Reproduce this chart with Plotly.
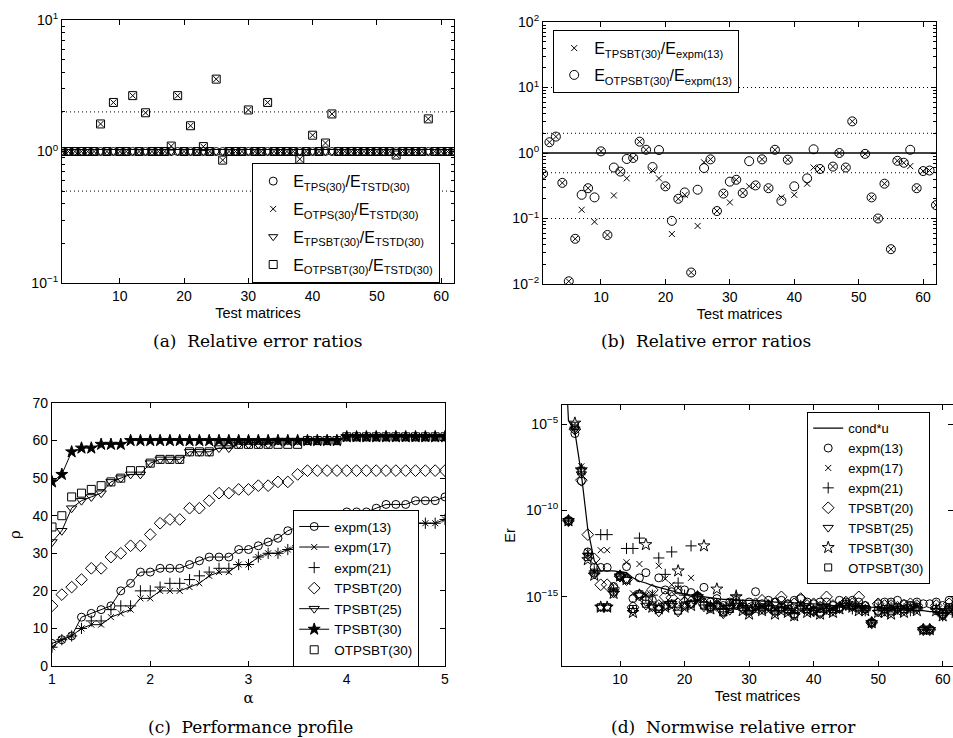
import plotly.graph_objects as go

FONT = "Liberation Sans, Arial, Helvetica, sans-serif"
SERIF = "DejaVu Serif, Liberation Serif, serif"

# ---------------- data ----------------
matrices = list(range(1, 63))

# (a) relative error ratios vs TSTD(30)
ratio_tps_a = [1.0, 1.0, 1.0, 1.0, 1.0, 1.0, 1.0, 1.0, 1.0, 1.0, 1.0, 1.0, 1.0, 1.0, 1.0, 1.0,
               1.0, 1.0, 1.0, 1.0, 1.0, 1.0, 1.0, 1.0, 1.0, 1.0, 1.0, 1.0, 1.0, 1.0, 1.0, 1.0,
               1.0, 1.0, 1.0, 1.0, 1.0, 1.0, 1.0, 1.0, 1.0, 1.0, 1.0, 1.0, 1.0, 1.0, 1.0, 1.0,
               1.0, 1.0, 1.0, 1.0, 1.0, 1.0, 1.0, 1.0, 1.0, 1.0, 1.0, 1.0, 1.0, 1.0]
ratio_tpsbt_a = list(ratio_tps_a)
ratio_otpsbt_a = [1.0, 1.0, 1.0, 1.0, 1.0, 1.0, 1.62, 1.0, 2.36, 1.0, 1.0, 2.66, 1.0, 1.97, 1.0, 1.0,
                  1.0, 1.1, 2.66, 1.0, 1.57, 1.0, 1.09, 1.0, 3.55, 0.86, 1.0, 1.0, 1.0, 2.07, 1.0, 1.0,
                  2.36, 1.0, 1.0, 1.0, 1.0, 0.875, 1.0, 1.33, 1.0, 1.16, 1.93, 1.0, 1.0, 1.0, 1.0, 1.0,
                  1.0, 1.0, 1.0, 1.0, 0.94, 1.0, 1.0, 1.0, 1.0, 1.77, 1.0, 1.0, 1.0, 1.0]
ratio_otps_a = list(ratio_otpsbt_a)
ref_lines_a = [2.0, 0.5]

# (b) ratios vs expm(13)
ratio_tpsbt_b = [0.48, 1.46, 1.78, 0.35, 0.011, 0.049, 0.136, 0.29, 0.089, 1.06, 0.056, 0.225, 0.52, 0.41,
                 0.84, 1.49, 1.12, 0.54, 0.41, 0.31, 0.058, 0.2, 0.23, 0.015, 0.077, 0.72, 0.8, 0.13,
                 0.24, 0.176, 0.39, 0.245, 0.31, 0.32, 0.8, 0.29, 1.12, 0.21, 0.79, 0.23, None, 0.34,
                 0.6, 0.57, None, 0.62, 1.0, 0.6, 3.04, None, 0.97, 0.21, 0.1, 0.34, 0.034, 0.76,
                 0.71, 0.63, 0.29, 0.53, 0.54, 0.16]
ratio_otpsbt_b = [0.48, 1.46, 1.78, 0.35, 0.011, 0.049, 0.23, 0.29, 0.21, 1.06, 0.056, 0.6, 0.52, 0.81,
                  0.84, 1.49, 1.12, 0.61, 1.11, 0.31, 0.092, 0.2, 0.25, 0.015, 0.275, 0.59, 0.8, 0.13,
                  0.24, 0.365, 0.39, 0.245, 0.75, 0.32, 0.8, 0.29, 1.12, 0.186, 0.79, 0.31, None, 0.41,
                  1.14, 0.57, None, 0.62, 1.0, 0.6, 3.04, None, 0.97, 0.21, 0.1, 0.34, 0.034, 0.76,
                  0.71, 1.12, 0.29, 0.53, 0.54, 0.16]
ref_dotted_b = [10.0, 2.0, 0.5, 0.1]
ref_solid_b = [1.0]

# (c) performance profile
alpha = [1.0, 1.1, 1.2, 1.3, 1.4, 1.5, 1.6, 1.7, 1.8, 1.9, 2.0, 2.1, 2.2, 2.3, 2.4, 2.5, 2.6, 2.7,
         2.8, 2.9, 3.0, 3.1, 3.2, 3.3, 3.4, 3.5, 3.6, 3.7, 3.8, 3.9, 4.0, 4.1, 4.2, 4.3, 4.4, 4.5,
         4.6, 4.7, 4.8, 4.9, 5.0]
p_expm13 = [6, 7, 8, 13, 14, 15, 16, 20, 22, 25, 25, 26, 26, 26, 27, 28, 29, 29, 29, 31, 31, 32, 33,
            34, 36, 37, 38, 39, 40, 40, 41, 41, 41, 42, 43, 43, 43, 44, 44, 44, 45]
p_expm17 = [5, 7, 8, 10, 11, 11, 13, 14, 15, 18, 18, 20, 20, 20, 21, 22, 24, 25, 25, 27, 27, 29, 30,
            30, 31, 32, 33, 34, 35, 35, 36, 36, 37, 37, 38, 38, 38, 38, 38, 38, 39]
p_expm21 = [5, 7, 8, 10, 12, 12, 15, 16, 16, 20, 20, 21, 22, 22, 23, 24, 25, 26, 26, 27, 27, 29, 30,
            30, 31, 32, 33, 34, 35, 35, 36, 36, 37, 37, 38, 38, 38, 38, 38, 38, 39]
p_tpsbt20 = [16, 19, 21, 23, 26, 26, 29, 30, 32, 32, 35, 38, 39, 39, 42, 42, 44, 46, 46, 47, 47, 48,
             48, 49, 49, 51, 52, 52, 52, 52, 52, 52, 52, 52, 52, 52, 52, 52, 52, 52, 52]
p_tpsbt25 = [33, 36, 42, 44, 45, 46, 49, 50, 51, 51, 54, 55, 55, 55, 57, 57, 57, 58, 58, 59, 59, 59,
             59, 60, 60, 60, 60, 60, 60, 60, 61, 61, 61, 61, 61, 61, 61, 61, 61, 61, 61]
p_tpsbt30 = [49, 51, 57, 58, 58, 59, 59, 59, 60, 60, 60, 60, 60, 60, 60, 60, 60, 60, 60, 60, 60, 60,
             60, 60, 60, 60, 60, 60, 60, 60, 61, 61, 61, 61, 61, 61, 61, 61, 61, 61, 61]
p_otpsbt30 = [37, 40, 45, 46, 47, 48, 49, 50, 52, 52, 54, 55, 55, 55, 57, 57, 57, 59, 59, 59, 59, 59,
              59, 59, 59, 59, 60, 60, 60, 60, 61, 61, 61, 61, 61, 61, 61, 61, 61, 61, 61]

# (d) normwise relative error, stored as log10 values
condu_log10 = [3.0, -4.8, -5.45, -7.9, -11.1, -12.9, -13.5, -13.5, -13.5, -13.55, -13.6, -13.9, -14.1,
               -14.2, -14.35, -14.45, -14.55, -14.65, -14.75, -14.85, -14.9, -14.95, -15.0, -15.05,
               -15.1, -15.15, -15.15, -15.2, -15.2, -15.2, -15.2, -15.25, -15.25, -15.3, -15.3, -15.3,
               -15.35, -15.35, -15.4, -15.4, -15.45, -15.45, -15.5, -15.5, -15.5, -15.55, -15.55, -15.6,
               -15.6, -15.6, -15.65, -15.65, -15.7, -15.7, -15.75, -15.8, -15.8, -15.85, -15.85, -15.9,
               -15.9, -15.9]
er_expm13 = [None, -10.6, -5.55, -8.3, -12.4, -13.3, -13.3, -13.3, -14.4, -13.8, -13.25, -15.1, -13.9,
             -13.6, -15.2, -13.9, -14.6, -14.7, -14.6, -14.6, -14.75, -14.95, -14.45, -15.3, -15.1,
             -15.5, -15.3, -15.2, -15.4, -15.3, -14.7, -15.4, -15.2, -15.3, -15.2, -15.4, -15.2, -15.1,
             -15.3, -15.4, -15.3, -15.3, -15.5, -15.2, -15.3, -15.2, -15.3, -15.5, -16.5, -15.4, -15.3,
             -15.3, -15.2, -15.4, -15.5, -15.3, -15.4, -15.4, -15.3, -15.5, -15.2, -15.4]
er_expm17 = [None, -10.6, -5.2, -7.45, -12.4, -13.6, -12.3, -12.3, -14.6, -13.7, -13.0, -14.8, -13.1,
             -14.9, -14.8, -13.2, -13.95, -14.3, -14.5, -15.0, -13.9, -15.0, -15.2, -15.6, -15.3, -15.6,
             -15.5, -15.3, -15.4, -15.7, -15.5, -15.6, -15.4, -15.7, -15.5, -15.6, -15.8, -15.4, -15.6,
             -15.7, -15.5, -15.6, -15.7, -15.5, -15.4, -15.6, -15.5, -15.7, -16.5, -15.5, -15.7, -15.5,
             -15.6, -15.6, -15.7, -15.5, -16.9, -16.9, -15.6, -16.0, -15.6, -15.8]
er_expm21 = [None, -10.6, -5.3, -7.6, -12.5, -13.5, -11.4, -11.4, -14.6, -13.8, -12.2, -12.2, -11.6,
             -15.0, -14.9, -12.75, -13.7, -12.4, -14.2, -14.9, -12.05, -15.0, -15.3, -15.5, -15.4,
             -15.7, -15.5, -14.9, -15.5, -15.8, -15.6, -15.7, -15.5, -15.8, -15.6, -15.7, -15.9, -15.5,
             -15.7, -15.8, -15.6, -15.7, -15.8, -15.6, -15.5, -15.7, -15.6, -15.8, -16.5, -15.6, -15.8,
             -15.6, -15.7, -15.7, -15.8, -15.6, -16.9, -16.9, -15.7, -16.1, -15.7, -15.9]
er_tpsbt20 = [None, -10.6, -5.3, -8.25, -11.4, -12.8, -14.3, -14.3, -14.5, -13.8, -14.0, -15.6, -14.9,
              -15.2, -14.6, -15.5, -15.0, -15.05, -15.4, -15.3, -15.3, -15.0, -15.4, -15.6, -15.5,
              -15.8, -15.5, -15.4, -15.6, -15.7, -15.4, -15.2, -15.5, -15.4, -15.0, -15.5, -15.4,
              -15.1, -15.5, -15.4, -15.6, -15.0, -15.5, -15.6, -15.3, -15.4, -15.0, -15.6, -16.5,
              -15.4, -15.5, -15.5, -15.6, -15.5, -15.4, -15.5, -16.9, -16.9, -15.5, -16.0, -15.4, -15.6]
er_tpsbt25 = [None, -10.6, -5.3, -7.9, -12.6, -13.7, -15.6, -15.6, -14.8, -13.8, -14.0, -15.8, -14.9,
              -15.5, -15.6, -15.9, -15.5, -15.4, -15.9, -15.5, -15.4, -15.0, -15.6, -15.6, -15.5,
              -16.0, -15.8, -15.5, -15.7, -15.9, -15.6, -15.7, -15.6, -15.9, -15.7, -15.8, -16.1,
              -15.6, -15.8, -15.9, -16.0, -15.7, -15.8, -15.7, -15.5, -15.6, -15.7, -15.7, -16.5,
              -15.9, -15.8, -15.9, -15.7, -15.8, -15.6, -15.7, -16.9, -16.9, -15.8, -16.1, -15.7, -15.9]
er_tpsbt30 = [None, -10.6, -4.95, -7.65, -12.85, -13.75, -15.6, -15.6, -14.8, -13.8, -14.0, -15.9,
              -14.9, -11.98, -15.6, -15.7, -15.6, -15.5, -13.5, -15.6, -15.5, -15.0, -12.05, -15.7,
              -14.55, -15.8, -15.6, -15.0, -15.8, -16.0, -15.7, -15.8, -15.7, -16.0, -15.8, -15.9,
              -16.1, -15.7, -15.9, -15.8, -16.0, -15.8, -15.9, -15.7, -15.5, -15.6, -15.8, -15.8,
              -16.5, -15.9, -15.9, -16.0, -15.8, -15.9, -15.7, -15.8, -16.9, -16.9, -15.8, -16.1,
              -15.8, -15.9]
er_otpsbt30 = [None, -10.6, -5.1, -7.7, -12.7, -13.6, -15.6, -15.6, -14.7, -13.8, -14.0, -15.7, -14.85,
               -15.4, -15.5, -15.7, -15.5, -15.4, -15.8, -15.5, -15.4, -15.0, -15.5, -15.6, -15.5,
               -15.9, -15.7, -15.4, -15.6, -15.8, -15.5, -15.6, -15.5, -15.8, -15.6, -15.7, -16.0,
               -15.5, -15.7, -15.8, -15.9, -15.6, -15.7, -15.6, -15.4, -15.5, -15.6, -15.7, -16.5,
               -15.8, -15.7, -15.8, -15.6, -15.7, -15.5, -15.6, -16.9, -16.9, -15.7, -16.0, -15.6, -15.8]


def pow10(vals):
    return [None if v is None else 10 ** v for v in vals]


fig = go.Figure()
BLK = "black"
DOT = "1px,3px"


def mk(symbol, size=8, width=1):
    return dict(symbol=symbol, size=size, color=BLK, line=dict(color=BLK, width=width))


# ---- (a) ----
for yv in ref_lines_a:
    fig.add_trace(go.Scatter(x=[matrices[0], matrices[-1]], y=[yv, yv], mode="lines",
                             line=dict(color=BLK, width=1, dash=DOT), showlegend=False,
                             xaxis="x", yaxis="y", hoverinfo="skip"))
a_series = [
    ("E<sub>TPS(30)</sub>/E<sub>TSTD(30)</sub>", ratio_tps_a, "circle-open", 8),
    ("E<sub>OTPS(30)</sub>/E<sub>TSTD(30)</sub>", ratio_otps_a, "x-thin-open", 6),
    ("E<sub>TPSBT(30)</sub>/E<sub>TSTD(30)</sub>", ratio_tpsbt_a, "triangle-down-open", 8),
    ("E<sub>OTPSBT(30)</sub>/E<sub>TSTD(30)</sub>", ratio_otpsbt_a, "square-open", 8),
]
for i, (name, vals, sym, sz) in enumerate(a_series):
    fig.add_trace(go.Scatter(x=matrices, y=vals, mode="markers", marker=mk(sym, sz), name=name,
                             legendgroup="a%d" % i, xaxis="x", yaxis="y", legend="legend"))

# ---- (b) ----
for yv in ref_dotted_b:
    fig.add_trace(go.Scatter(x=[matrices[0], matrices[-1]], y=[yv, yv], mode="lines",
                             line=dict(color=BLK, width=1, dash=DOT), showlegend=False,
                             xaxis="x2", yaxis="y2", hoverinfo="skip"))
for yv in ref_solid_b:
    fig.add_trace(go.Scatter(x=[matrices[0], matrices[-1]], y=[yv, yv], mode="lines",
                             line=dict(color=BLK, width=1.3), showlegend=False,
                             xaxis="x2", yaxis="y2", hoverinfo="skip"))
fig.add_trace(go.Scatter(x=matrices, y=ratio_tpsbt_b, mode="markers", marker=mk("x-thin-open", 6),
                         name="E<sub>TPSBT(30)</sub>/E<sub>expm(13)</sub>", legendgroup="b0",
                         xaxis="x2", yaxis="y2", legend="legend2"))
fig.add_trace(go.Scatter(x=matrices, y=ratio_otpsbt_b, mode="markers", marker=mk("circle-open", 9),
                         name="E<sub>OTPSBT(30)</sub>/E<sub>expm(13)</sub>", legendgroup="b1",
                         xaxis="x2", yaxis="y2", legend="legend2"))

# ---- (c) ----
c_series = [
    ("expm(13)", p_expm13, "lines+markers", "circle-open", 8),
    ("expm(17)", p_expm17, "lines+markers", "x-thin-open", 6),
    ("expm(21)", p_expm21, "markers", "cross-thin-open", 8),
    ("TPSBT(20)", p_tpsbt20, "markers", "diamond-open", 9),
    ("TPSBT(25)", p_tpsbt25, "lines+markers", "triangle-down-open", 9),
    ("TPSBT(30)", p_tpsbt30, "lines+markers", "star", 9),
    ("OTPSBT(30)", p_otpsbt30, "markers", "square-open", 8),
]
for name, vals, mode, sym, sz in c_series:
    fig.add_trace(go.Scatter(x=alpha, y=vals, mode=mode, name=name, marker=mk(sym, sz),
                             line=dict(color=BLK, width=1), xaxis="x3", yaxis="y3", legend="legend3"))

# ---- (d) ----
fig.add_trace(go.Scatter(x=matrices, y=pow10(condu_log10), mode="lines", name="cond*u",
                         line=dict(color=BLK, width=1.2), xaxis="x4", yaxis="y4", legend="legend4"))
d_series = [
    ("expm(13)", er_expm13, "circle-open", 8),
    ("expm(17)", er_expm17, "x-thin-open", 6),
    ("expm(21)", er_expm21, "cross-thin-open", 8),
    ("TPSBT(20)", er_tpsbt20, "diamond-open", 9),
    ("TPSBT(25)", er_tpsbt25, "triangle-down-open", 9),
    ("TPSBT(30)", er_tpsbt30, "star-open", 9),
    ("OTPSBT(30)", er_otpsbt30, "square-open", 7),
]
for name, vals, sym, sz in d_series:
    fig.add_trace(go.Scatter(x=matrices, y=pow10(vals), mode="markers", name=name, marker=mk(sym, sz),
                             xaxis="x4", yaxis="y4", legend="legend4"))

W, H = 953, 738


def dom_x(a, b):
    return [a / W, b / W]


def dom_y(top, bottom):
    return [1 - bottom / H, 1 - top / H]


TICKF = dict(family=FONT, size=14, color=BLK)
TITLEF = dict(family=FONT, size=14.5, color=BLK)


def ax(**kw):
    d = dict(showline=True, linecolor=BLK, linewidth=1.2, mirror="ticks", ticks="inside", ticklen=5,
             tickcolor=BLK, tickwidth=1, showgrid=False, zeroline=False, tickfont=TICKF,
             automargin=False)
    d.update(kw)
    return d


minor_a = [0.2, 0.3, 0.4, 0.5, 0.6, 0.7, 0.8, 0.9, 2, 3, 4, 5, 6, 7, 8, 9]
minor_b = [0.02, 0.03, 0.04, 0.05, 0.06, 0.07, 0.08, 0.09] + minor_a + [20, 30, 40, 50, 60, 70, 80, 90]
xticks_m = [10, 20, 30, 40, 50, 60]

leg_common = dict(bgcolor="white", bordercolor=BLK, borderwidth=1.2, xanchor="left", yanchor="top")

fig.update_layout(
    width=W, height=H, autosize=False, margin=dict(l=0, r=0, t=0, b=0, pad=0, autoexpand=False),
    paper_bgcolor="white", plot_bgcolor="white", font=dict(family=FONT, color=BLK),
    xaxis=ax(domain=dom_x(62, 454), range=[1, 62], tickvals=xticks_m, anchor="y",
             title=dict(text="Test matrices", font=TITLEF, standoff=4)),
    yaxis=ax(domain=dom_y(20, 283), type="log", range=[-1, 1], anchor="x",
             tickvals=[0.1, 1, 10], ticktext=["10<sup>−1</sup>", "10<sup>0</sup>", "10<sup>1</sup>"],
             minor=dict(tickmode="array", tickvals=minor_a, ticks="inside", ticklen=3, tickcolor=BLK)),
    xaxis2=ax(domain=dom_x(543, 936), range=[1, 62], tickvals=xticks_m, anchor="y2",
              title=dict(text="Test matrices", font=TITLEF, standoff=4)),
    yaxis2=ax(domain=dom_y(22, 284), type="log", range=[-2, 2], anchor="x2",
              tickvals=[0.01, 0.1, 1, 10, 100],
              ticktext=["10<sup>−2</sup>", "10<sup>−1</sup>", "10<sup>0</sup>", "10<sup>1</sup>", "10<sup>2</sup>"],
              minor=dict(tickmode="array", tickvals=minor_b, ticks="inside", ticklen=3, tickcolor=BLK)),
    xaxis3=ax(domain=dom_x(52, 445), range=[1, 5], tickvals=[1, 2, 3, 4, 5], anchor="y3",
              title=dict(text="α", font=dict(family=SERIF, size=15), standoff=6)),
    yaxis3=ax(domain=dom_y(403, 666), range=[0, 70], tickvals=[0, 10, 20, 30, 40, 50, 60, 70], anchor="x3",
              title=dict(text="ρ", font=dict(family=SERIF, size=15), standoff=8)),
    xaxis4=ax(domain=dom_x(562, 953), range=[1, 61.6], tickvals=xticks_m, anchor="y4",
              title=dict(text="Test matrices", font=TITLEF, standoff=4)),
    yaxis4=ax(domain=dom_y(405, 666), type="log", range=[-19, -3.9], anchor="x4",
              tickvals=[1e-15, 1e-10, 1e-5],
              ticktext=["10<sup>−15</sup>", "10<sup>−10</sup>", "10<sup>−5</sup>"],
              title=dict(text="Er", font=TITLEF, standoff=6)),
    legend=dict(leg_common, x=252 / W, y=1 - 163 / H, font=dict(family=FONT, size=16, color=BLK),
                traceorder="grouped", tracegroupgap=4),
    legend2=dict(leg_common, x=553 / W, y=1 - 30 / H, font=dict(family=FONT, size=16, color=BLK),
                 traceorder="grouped", tracegroupgap=3),
    legend3=dict(leg_common, x=293 / W, y=1 - 510 / H, font=dict(family=FONT, size=13.5, color=BLK),
                 tracegroupgap=0),
    legend4=dict(leg_common, x=807 / W, y=1 - 412 / H, font=dict(family=FONT, size=13, color=BLK),
                 tracegroupgap=0),
    showlegend=True,
)

captions = [
    ("(a)  Relative error ratios", 258, 341),
    ("(b)  Relative error ratios", 706, 341),
    ("(c)  Performance profile", 250, 727),
    ("(d)  Normwise relative error", 733, 727),
]
for text, cx, cy in captions:
    fig.add_annotation(text=text, xref="paper", yref="paper", x=cx / W, y=1 - cy / H,
                       xanchor="center", yanchor="middle", showarrow=False,
                       font=dict(family=SERIF, size=17, color=BLK))

fig.write_html("out.html", config={"displayModeBar": False},
               post_script="document.body.style.margin='0';document.body.style.padding='0';")
